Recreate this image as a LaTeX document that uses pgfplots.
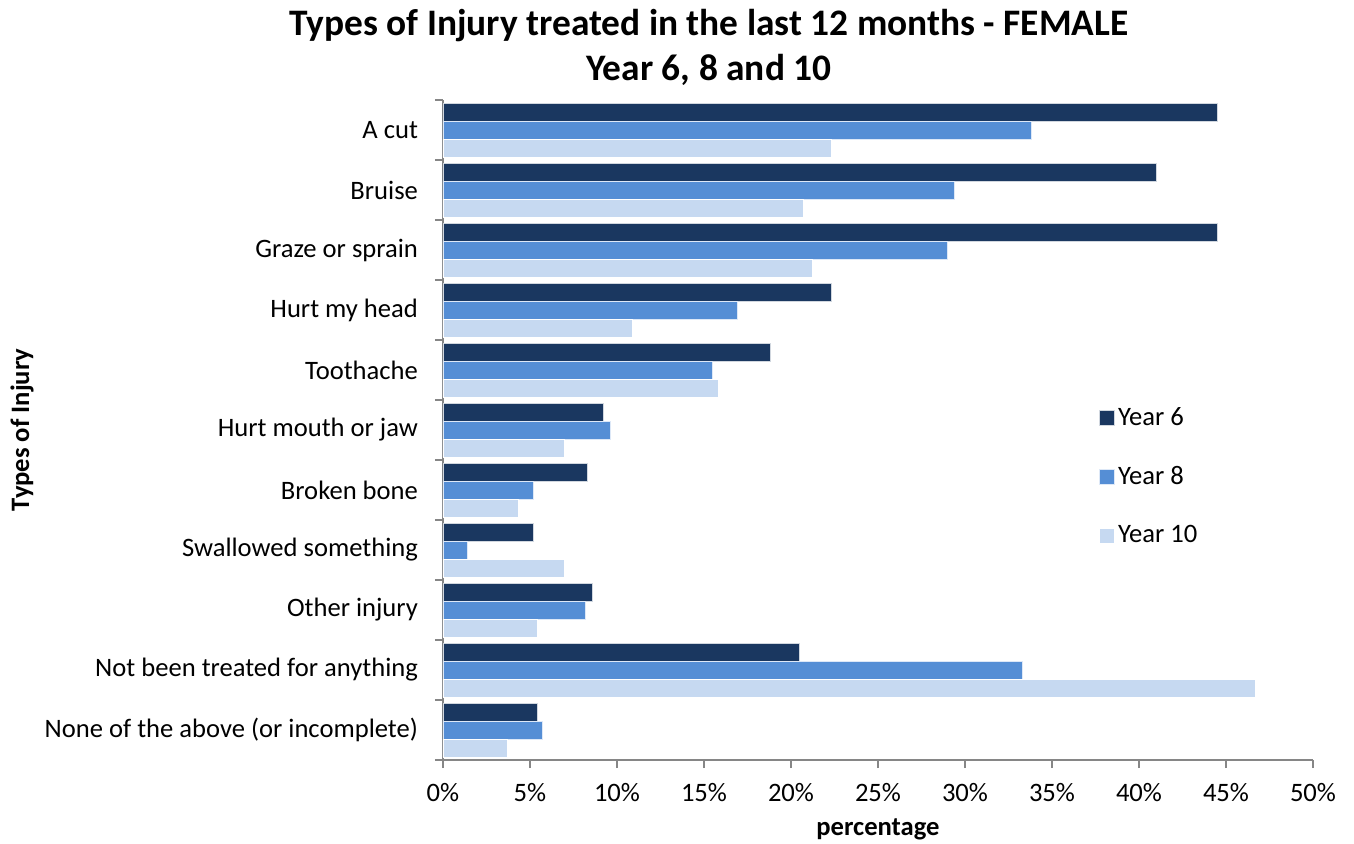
\documentclass[border=0pt]{standalone}
\usepackage{fontspec}
\setmainfont{Carlito}
\usepackage{pgfplots}
\pgfplotsset{compat=1.18}

\definecolor{yrsix}{HTML}{1A3760}
\definecolor{yreight}{HTML}{558ED5}
\definecolor{yrten}{HTML}{C6D9F1}
\definecolor{axisgray}{HTML}{868686}

\newcommand{\lblfont}{\fontsize{13.3}{16}\selectfont}

\begin{document}
\begin{tikzpicture}
  % page = 1354 x 843 px at 0.5pt per px, axis corner at px (443,760)
  \path[use as bounding box] (-221.5pt,-41.5pt) rectangle (455.5pt,380pt);
  \begin{axis}[
      at={(0,0)}, anchor=south west,
      scale only axis,
      clip=false,
      width=435pt, height=330pt,
      xbar, bar width=9pt,
      xmin=0, xmax=50,
      ymin=-0.5, ymax=10.5,
      axis x line*=bottom,
      axis y line*=left,
      axis line style={axisgray, line width=0.8pt, -},
      tick style={axisgray, line width=0.8pt},
      tick align=outside,
      major tick length=4pt,
      xtick={0,5,...,50},
      xticklabels={0\%,5\%,10\%,15\%,20\%,25\%,30\%,35\%,40\%,45\%,50\%},
      xticklabel style={font=\lblfont, yshift=-4pt},
      ytick={-0.5,0.5,...,10.5},
      yticklabels={},
      extra y ticks={0,1,2,3,4,5,6,7,8,9,10},
      extra y tick labels={None of the above (or incomplete), Not been treated for anything, Other injury, Swallowed something, Broken bone, Hurt mouth or jaw, Toothache, Hurt my head, Graze or sprain, Bruise, A cut},
      extra y tick style={major tick length=0pt, yticklabel style={font=\lblfont, anchor=east, xshift=-9pt}},
      xlabel={\textbf{percentage}},
      xlabel style={font=\lblfont, at={(axis description cs:0.5,-0.1045)}, anchor=center},
      ylabel={\textbf{Types of Injury}},
      ylabel style={font=\lblfont, at={(axis description cs:-0.484,0.5)}, anchor=center},
      legend cell align=left,
      legend style={draw=none, fill=none, inner sep=0pt,
        at={(0.753,0.541)}, anchor=north west,
        font=\lblfont, row sep=15pt},
      legend image code/.code={\fill[#1] (0pt,-3.75pt) rectangle (7.5pt,3.75pt);},
    ]
    \addplot[fill=yrsix, draw=white!80!yrsix, line width=0.3pt, bar shift=9pt]
      coordinates {(44.5,10) (41.0,9) (44.5,8) (22.3,7) (18.8,6) (9.2,5)
                   (8.3,4) (5.2,3) (8.6,2) (20.5,1) (5.4,0)};
    \addlegendentry{Year 6}
    \addplot[fill=yreight, draw=white!80!yreight, line width=0.3pt, bar shift=0pt]
      coordinates {(33.8,10) (29.4,9) (29.0,8) (16.9,7) (15.5,6) (9.6,5)
                   (5.2,4) (1.4,3) (8.2,2) (33.3,1) (5.7,0)};
    \addlegendentry{Year 8}
    \addplot[fill=yrten, draw=white, line width=0.3pt, bar shift=-9pt]
      coordinates {(22.3,10) (20.7,9) (21.2,8) (10.9,7) (15.8,6) (7.0,5)
                   (4.3,4) (7.0,3) (5.4,2) (46.7,1) (3.7,0)};
    \addlegendentry{Year 10}
    \node[font=\fontsize{18.7}{22.5}\selectfont\bfseries, align=center]
      at (rel axis cs:0.3057,1.079)
      {Types of Injury treated in the last 12 months - FEMALE\\Year 6, 8 and 10};
  \end{axis}
\end{tikzpicture}
\end{document}
